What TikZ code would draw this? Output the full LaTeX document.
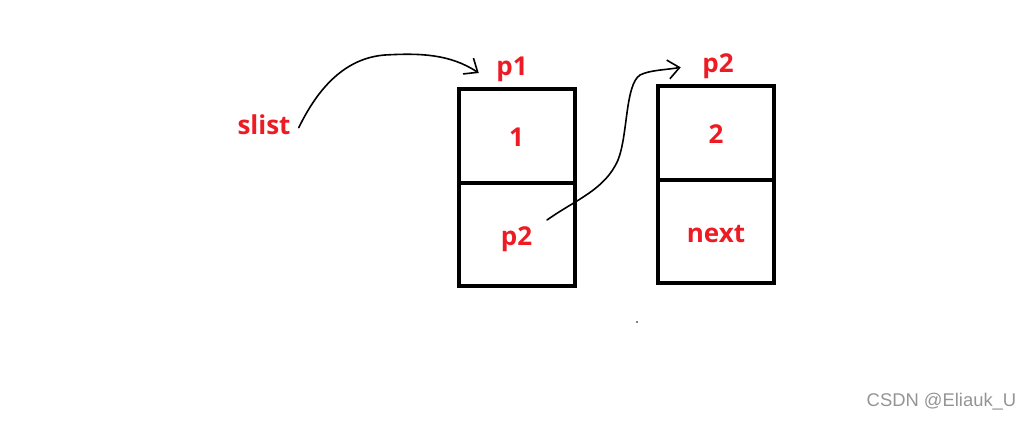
\documentclass[tikz,border=0pt]{standalone}
\usepackage{fontspec}
\setmainfont{Open Sans}
\newfontfamily\markfont{Liberation Sans}
\usetikzlibrary{arrows.meta,positioning}
\definecolor{inkred}{RGB}{237,28,36}
\tikzset{
  cell/.style={draw=black, line width=3pt, minimum width=87pt, outer sep=0pt, inner sep=0pt, text height=16pt, text depth=0pt, font=\bfseries\fontsize{19.5}{21}\selectfont, text=inkred},
  topcell/.style={cell, minimum height=70.5pt},
  lowcell/.style={cell, minimum height=77pt},
  lbl/.style={font=\bfseries\fontsize{19.5}{21}\selectfont, text=inkred, inner sep=1pt},
  scrawl/.style={-{Straight Barb[length=3mm,width=5mm]}, line width=1.2pt, line cap=round, line join=round}
}
\begin{document}
\begin{tikzpicture}[x=0.75pt, y=-0.75pt, node distance=0pt]
\useasboundingbox (0,0) rectangle (1030,421);
\node[topcell] (c1) at (516.5,136) {1};
\node[lowcell, below=of c1] (c2) {p2};
\node[topcell] (d1) at (716,133) {2};
\node[lowcell, below=of d1] (d2) {next};
\node[lbl] (p1) at (512,69) {p1};
\node[lbl] (p2) at (718,66) {p2};
\node[lbl] (slist) at (264,125) {slist};
\coordinate (tail) at (547,220);
\draw[scrawl] ([xshift=5pt,yshift=-2pt]slist.east) .. controls (318,88) and (345,58) .. (385,55) .. controls (420,53) and (450,54) .. ([xshift=-12pt,yshift=-3pt]p1.west);
\draw[scrawl] (tail) .. controls (575,200) and (605,190) .. (618,160) .. controls (628,135) and (625,85) .. (640,75) .. controls (650,70) and (665,70) .. ([xshift=-15pt,yshift=-1pt]p2.west);
\node[font=\markfont\fontsize{13.8}{15}\selectfont, text=black!42] (mark) at (941.5,402) {CSDN @Eliauk\_U};
\fill (637,322) circle (0.8);
\end{tikzpicture}
\end{document}
